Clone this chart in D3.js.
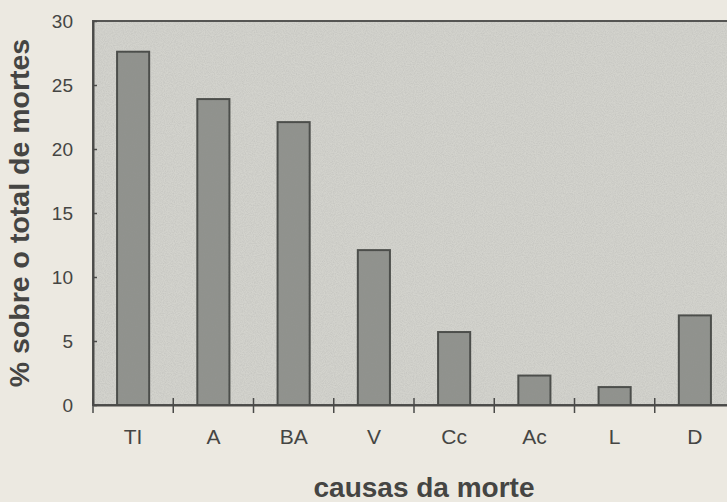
<!DOCTYPE html>
<html>
<head>
<meta charset="utf-8">
<script src="https://cdn.jsdelivr.net/npm/d3@7"></script>
<style>
  body { margin: 0; background: #ece9e1; }
  svg { display: block; }
  text { font-family: "Liberation Sans", Arial, sans-serif; fill: #454543; }
</style>
</head>
<body>
<div class="chart"></div>
<script>
var causas = ['TI', 'A', 'BA', 'V', 'Cc', 'Ac', 'L', 'D'];
var percentagens = [27.6, 23.9, 22.1, 12.1, 5.7, 2.3, 1.4, 7.0];
var yTicks = [0, 5, 10, 15, 20, 25, 30];

var width = 727, height = 502;

var svg = d3.select(".chart")
    .append("svg")
    .attr("width", width)
    .attr("height", height)

// grain, like the scanned page
var defs = svg.append("defs")
var grain = defs.append("filter").attr("id", "grain")
grain.append("feTurbulence")
    .attr("type", "fractalNoise")
    .attr("baseFrequency", 0.9)
    .attr("numOctaves", 2)
    .attr("seed", 3)
grain.append("feColorMatrix")
    .attr("type", "matrix")
    .attr("values", "0 0 0 0 0.3  0 0 0 0 0.3  0 0 0 0 0.3  0 0 0 -1.6 1.1")
grain.append("feComposite").attr("in2", "SourceGraphic").attr("operator", "in")

// plot box (avoid "top", it is window.top)
var plotL = 93, plotT = 21, plotB = 405, plotR = 735;

var x = d3.scaleBand()
    .domain(causas)
    .range([plotL, plotR])
    .paddingInner(0.6)
    .paddingOuter(0.3)

var y = d3.scaleLinear()
    .domain([0, 30])
    .range([plotB, plotT])

// plot area
svg.append("rect")
    .attr("x", plotL)
    .attr("y", plotT)
    .attr("width", plotR + 10 - plotL)
    .attr("height", plotB - plotT)
    .attr("fill", "#d3d3cd")
    .attr("stroke", "#555553")
    .attr("stroke-width", 2)

svg.append("rect")
    .attr("x", plotL + 1)
    .attr("y", plotT + 1)
    .attr("width", width - plotL)
    .attr("height", plotB - plotT - 2)
    .attr("fill", "#d3d3cd")
    .attr("filter", "url(#grain)")
    .attr("opacity", 0.22)

// bars
svg.selectAll(".bar")
    .data(percentagens)
    .enter().append("rect")
    .attr("class", "bar")
    .attr("x", function(d, i) { return x(causas[i]); })
    .attr("y", function(d) { return y(d); })
    .attr("width", x.bandwidth())
    .attr("height", function(d) { return plotB - y(d); })
    .attr("fill", "#90928d")
    .attr("stroke", "#4c4e4b")
    .attr("stroke-width", 2)

svg.selectAll(".bargrain")
    .data(percentagens)
    .enter().append("rect")
    .attr("class", "bargrain")
    .attr("x", function(d, i) { return x(causas[i]) + 1; })
    .attr("y", function(d) { return y(d) + 1; })
    .attr("width", x.bandwidth() - 2)
    .attr("height", function(d) { return plotB - y(d) - 2; })
    .attr("fill", "#90928d")
    .attr("filter", "url(#grain)")
    .attr("opacity", 0.3)

// y axis
var yAxis = svg.append("g")
    .attr("transform", "translate(" + plotL + ",0)")
    .call(d3.axisLeft(y).tickValues(yTicks).tickSizeInner(8).tickSizeOuter(0).tickPadding(12))
yAxis.select(".domain").attr("stroke", "#4a4a48").attr("stroke-width", 2)
yAxis.selectAll(".tick line").attr("x2", 4).attr("stroke", "#4a4a48").attr("stroke-width", 1.5)
yAxis.selectAll(".tick text")
    .style("font-size", "19px")
    .attr("fill", "#454543")

// x axis
var xAxis = svg.append("g")
    .attr("transform", "translate(0," + plotB + ")")
    .call(d3.axisBottom(x).tickSize(0).tickPadding(24))
xAxis.select(".domain").attr("stroke", "#4a4a48").attr("stroke-width", 2)
xAxis.selectAll(".tick text")
    .style("font-size", "21px")
    .attr("fill", "#454543")

// category boundary ticks
var bounds = causas.map(function(c) { return x(c) - x.step() * 0.3; });
bounds.push(plotR);
xAxis.selectAll(".bound")
    .data(bounds)
    .enter().append("line")
    .attr("class", "bound")
    .attr("x1", function(d) { return d; })
    .attr("x2", function(d) { return d; })
    .attr("y1", -7)
    .attr("y2", 8)
    .attr("stroke", "#4a4a48")
    .attr("stroke-width", 1.5)

// titles
svg.append("text")
    .attr("x", 424)
    .attr("y", 497)
    .attr("text-anchor", "middle")
    .text("causas da morte")
    .style("font-size", "28px")
    .style("font-weight", "bold")
    .attr("fill", "#3c3c3a")

svg.append("text")
    .attr("transform", "translate(29,213) rotate(-90)")
    .attr("text-anchor", "middle")
    .text("% sobre o total de mortes")
    .style("font-size", "28.5px")
    .style("font-weight", "bold")
    .attr("fill", "#3c3c3a")
</script>
</body>
</html>
